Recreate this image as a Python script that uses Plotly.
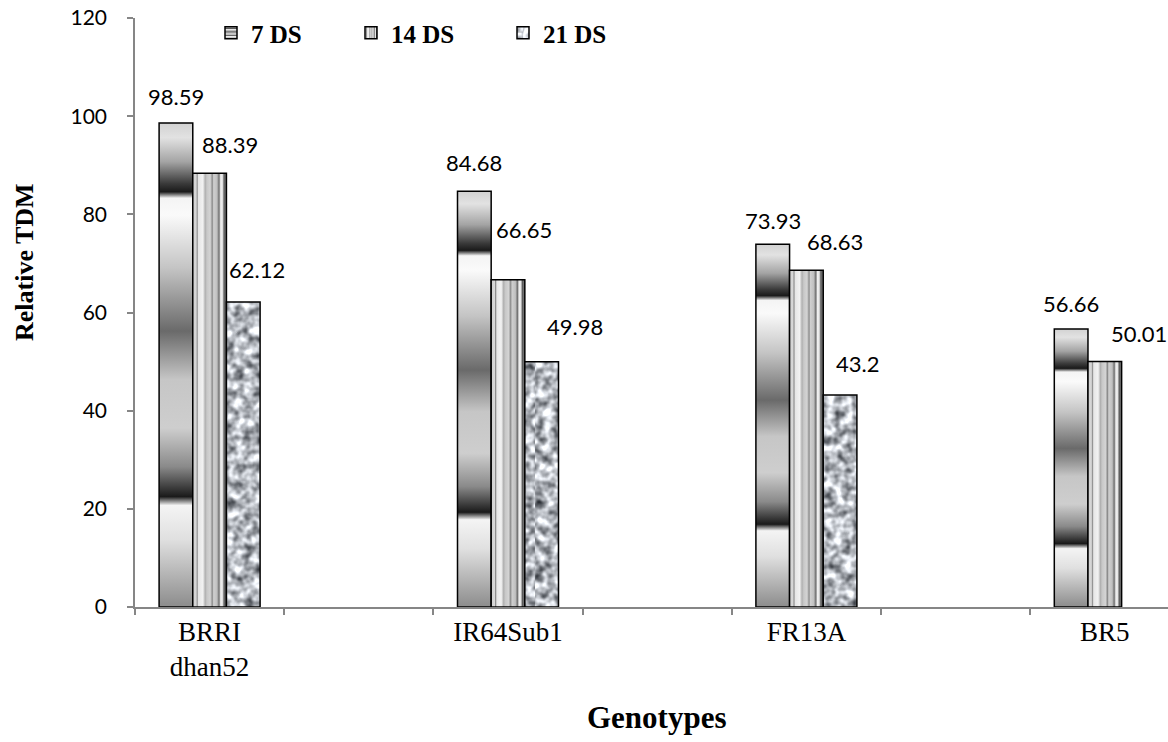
import plotly.graph_objects as go

# ---- data -------------------------------------------------------------
genotypes = ["BRRI<br>dhan52", "IR64Sub1", "FR13A", "BR5"]
series_names = ["7 DS", "14 DS", "21 DS"]
tdm_7ds = [98.59, 84.68, 73.93, 56.66]
tdm_14ds = [88.39, 66.65, 68.63, 50.01]
tdm_21ds = [62.12, 49.98, 43.2, None]   # no 21 DS value for BR5
y_ticks = [0, 20, 40, 60, 80, 100, 120]

series_values = [tdm_7ds, tdm_14ds, tdm_21ds]

# ---- layout constants --------------------------------------------------
W, H = 1168, 742
M_L, M_R, M_T, M_B = 135, 0, 18, 135
BARGAP = 0.323
SERIF = "Liberation Serif, Times New Roman, serif"
SANS = "Lato, Calibri, sans-serif"
AXIS_GREY = "#868686"

# every genotype is followed by an empty slot on the category axis
slots = []
for k, g in enumerate(genotypes):
    slots.append(g)
    slots.append(" " * (k + 1))
slots = slots[:-1]
slot_px = 149.2
x_max = -0.5 + (W - M_L - M_R) / slot_px

# label nudges (px): horizontal shift and baseline height above bar top
label_dx = [[0, 0, 0, 0], [20, 16, 29, 34], [14, 33, 17, 0]]
label_dy = [[18, 20, 15, 17], [20, 42, 20, 20], [24, 27, 23, 0]]

fig = go.Figure()
fallback = ["#9a9a9a", "#c4c4c4", "#b2b5b8"]
legend_ids = ["legend", "legend2", "legend3"]
for i, (name, vals) in enumerate(zip(series_names, series_values)):
    fig.add_trace(go.Bar(
        name=name, x=genotypes, y=vals,
        marker=dict(color=fallback[i], line=dict(color="#000000", width=1.5)),
        legend=legend_ids[i], hoverinfo="x+y",
    ))

# value labels above the bars
bar_w = (1 - BARGAP) / len(series_names)
for i, vals in enumerate(series_values):
    for j, v in enumerate(vals):
        if v is None:
            continue
        fig.add_annotation(
            x=slots.index(genotypes[j]) + (i - 1) * bar_w, y=v,
            xref="x", yref="y", xanchor="center", yanchor="bottom",
            xshift=label_dx[i][j], yshift=label_dy[i][j] - 7,
            text=f"{v:g}", showarrow=False,
            font=dict(family=SANS, size=22, color="#000000"),
        )

# axis titles
fig.add_annotation(
    text="<b>Relative TDM</b>", textangle=-90, showarrow=False,
    xref="paper", yref="paper", x=(24 - M_L) / (W - M_L - M_R),
    y=(H - M_B - 262) / (H - M_T - M_B), xanchor="center", yanchor="middle",
    font=dict(family=SERIF, size=26, color="#000000"),
)
fig.add_annotation(
    text="<b>Genotypes</b>", showarrow=False,
    xref="paper", yref="paper", x=(657 - M_L) / (W - M_L - M_R),
    y=(H - M_B - 717) / (H - M_T - M_B), xanchor="center", yanchor="middle",
    font=dict(family=SERIF, size=31, color="#000000"),
)

legend_common = dict(
    orientation="h", bgcolor="rgba(0,0,0,0)", borderwidth=0,
    font=dict(family=SERIF, size=25, color="#000000", weight="bold"),
    xanchor="left", yanchor="middle", y=(H - M_B - 33) / (H - M_T - M_B),
)
legend_px = [211, 351, 503]
legend_x = [(p - M_L) / (W - M_L - M_R) for p in legend_px]

fig.update_layout(
    width=W, height=H,
    margin=dict(l=M_L, r=M_R, t=M_T, b=M_B, pad=0),
    paper_bgcolor="#ffffff", plot_bgcolor="#ffffff",
    barmode="group", bargap=BARGAP, bargroupgap=0,
    showlegend=True,
    legend=dict(x=legend_x[0], **legend_common),
    legend2=dict(x=legend_x[1], **legend_common),
    legend3=dict(x=legend_x[2], **legend_common),
    xaxis=dict(
        type="category", categoryorder="array", categoryarray=slots,
        range=[-0.5, x_max], tickson="boundaries",
        showline=True, linecolor=AXIS_GREY, linewidth=1.5,
        ticks="outside", ticklen=6, tickwidth=1.5, tickcolor=AXIS_GREY,
        showgrid=False, zeroline=False,
        tickfont=dict(family=SERIF, size=27, color="#000000"),
    ),
    yaxis=dict(
        range=[0, 120], tickmode="array", tickvals=y_ticks,
        ticktext=[str(t) for t in y_ticks],
        showline=True, linecolor=AXIS_GREY, linewidth=1.5,
        ticks="outside", ticklen=6, tickwidth=1.5, tickcolor=AXIS_GREY,
        showgrid=False, zeroline=False, ticklabelstandoff=16,
        tickfont=dict(family=SANS, size=21, color="#000000"),
    ),
)

# SVG fills: banded chrome gradient, vertical stripes, granite texture
post_js = r"""
(function(){
var gd = document.getElementById('{plot_id}');
var NS = 'http://www.w3.org/2000/svg';
function el(tag, attrs, parent){
  var e = document.createElementNS(NS, tag);
  for (var k in attrs) e.setAttribute(k, attrs[k]);
  if (parent) parent.appendChild(e);
  return e;
}
function grad(defs, id, horiz, stops){
  var g = el('linearGradient', {id: id, x1: 0, y1: 0, x2: horiz ? 1 : 0, y2: horiz ? 0 : 1}, defs);
  stops.forEach(function(s){ el('stop', {offset: s[0], 'stop-color': s[1]}, g); });
}
function ensureDefs(){
  if (document.getElementById('tdm-defs-svg')) return;
  var svg = el('svg', {id: 'tdm-defs-svg', width: 0, height: 0});
  svg.style.position = 'absolute'; svg.style.left = '0'; svg.style.top = '0';
  var defs = el('defs', {}, svg);
  grad(defs, 'tdm-chrome', false, [
    [0.00,'#d2d2d2'],[0.03,'#e2e2e2'],[0.08,'#a4a4a4'],[0.125,'#3a3a3a'],
    [0.142,'#1a1a1a'],[0.155,'#f4f4f4'],[0.19,'#fafafa'],[0.30,'#c4c4c4'],
    [0.43,'#6a6a6a'],[0.53,'#c6c6c6'],[0.63,'#cecece'],[0.71,'#8a8a8a'],
    [0.772,'#1a1a1a'],[0.79,'#f4f4f4'],[0.86,'#e0e0e0'],[1.00,'#8c8c8c']]);
  grad(defs, 'tdm-stripes', true, [
    [0.00,'#cfcfcf'],[0.10,'#d8d8d8'],[0.13,'#8a8a8a'],[0.17,'#e6e6e6'],
    [0.30,'#f2f2f2'],[0.37,'#b0b0b0'],[0.42,'#c8c8c8'],[0.52,'#d4d4d4'],
    [0.58,'#8c8c8c'],[0.62,'#cfcfcf'],[0.72,'#c0c0c0'],[0.78,'#6e6e6e'],
    [0.83,'#f0f0f0'],[0.88,'#e6e6e6'],[0.93,'#5a5a5a'],[1.00,'#8a8a8a']]);
  var f = el('filter', {id: 'tdm-noise', x: 0, y: 0, width: '100%', height: '100%',
                        'color-interpolation-filters': 'sRGB'}, defs);
  el('feTurbulence', {type: 'fractalNoise', baseFrequency: '0.11', numOctaves: 2, seed: 11}, f);
  el('feColorMatrix', {type: 'matrix', values:
    '1.3 0 0 0 0.06  1.3 0 0 0 0.075  1.3 0 0 0 0.10  0 0 0 0 1'}, f);
  var pat = el('pattern', {id: 'tdm-granite', patternUnits: 'userSpaceOnUse',
                           x: 0, y: 0, width: 400, height: 800}, defs);
  el('rect', {x: 0, y: 0, width: 400, height: 800, fill: '#b0b3b6', filter: 'url(#tdm-noise)'}, pat);
  document.body.appendChild(svg);
}
function paint(){
  ensureDefs();
  var fills = ['url(#tdm-chrome)', 'url(#tdm-stripes)', 'url(#tdm-granite)'];
  gd.querySelectorAll('.barlayer .trace.bars').forEach(function(t, i){
    t.querySelectorAll('path').forEach(function(p){ p.style.fill = fills[i]; p.style.fillOpacity = 1; });
  });
  ['legend', 'legend2', 'legend3'].forEach(function(cls, i){
    gd.querySelectorAll('g.' + cls + ' g.legendpoints path').forEach(function(p){
      p.style.fill = fills[i]; p.style.fillOpacity = 1;
    });
  });
}
paint();
if (gd.on) gd.on('plotly_afterplot', paint);
})();
"""

fig.write_html("out.html", post_script=post_js)
